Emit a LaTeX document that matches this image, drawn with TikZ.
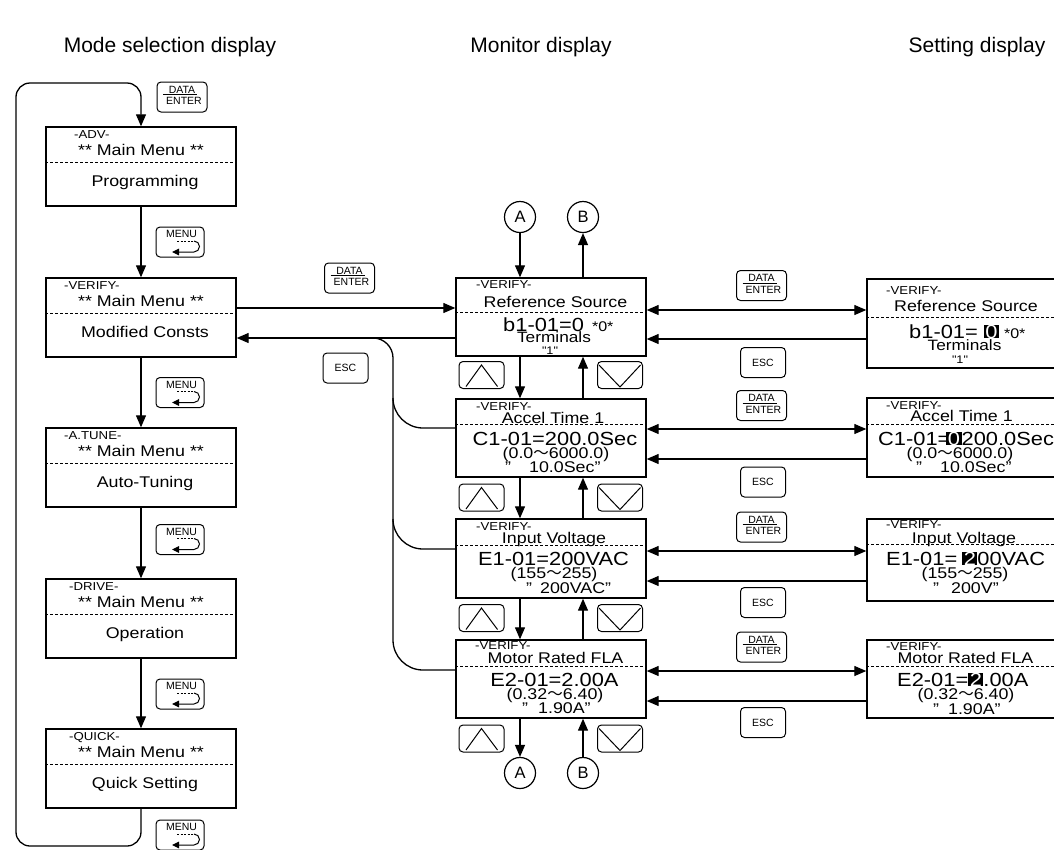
\documentclass[tikz,border=0pt]{standalone}
\usepackage{fontspec}
\setmainfont{Liberation Sans}
\setsansfont{Liberation Sans}
\newfontfamily\lcd[FakeStretch=1.15]{Liberation Sans}
\newfontfamily\cjkjp{Noto Sans CJK JP}
\usetikzlibrary{arrows.meta}
\newcommand\wv{{\cjkjp 〜}}
\newcommand\hlbox[1]{{\setlength\fboxsep{0pt}\colorbox{black}{\hspace{1.5pt}\textcolor{white}{#1}\hspace{1.5pt}}}}
\tikzset{
  lcdbox/.style={draw, line width=1.4pt, rectangle, inner sep=0pt},
  dsh/.style={line width=1pt, dash pattern=on 3pt off 2pt},
  conn/.style={line width=1.3pt},
  arr/.style={-{Triangle[length=12pt,width=10pt]}},
  arrboth/.style={{Triangle[length=12pt,width=10pt]}-{Triangle[length=12pt,width=10pt]}},
  keybox/.style={draw, line width=1pt, rounded corners=4pt, rectangle, inner sep=0pt},
  keyf/.style={font=\fontsize{10.5}{11}\selectfont, inner sep=0pt},
  tagf/.style={font=\lcd\fontsize{11.5}{12}\selectfont, inner sep=0pt, anchor=base west},
  midf/.style={font=\lcd\fontsize{15.5}{17}\selectfont, inner sep=0pt, anchor=base},
  termf/.style={font=\lcd\fontsize{15}{16}\selectfont, inner sep=0pt, anchor=base},
  bigf/.style={font=\lcd\fontsize{19}{20}\selectfont, inner sep=0pt, anchor=base},
  bigw/.style={bigf, anchor=base west},
  deff/.style={font=\lcd\fontsize{15.5}{17}\selectfont, inner sep=0pt, anchor=base west},
  tinyf/.style={font=\lcd\fontsize{11}{12}\selectfont, inner sep=0pt, anchor=base},
  hdrf/.style={font=\fontsize{21}{24}\selectfont, inner sep=0pt, anchor=base},
  circ/.style={draw, circle, line width=1.2pt, minimum size=31pt, inner sep=0pt, font=\fontsize{16.5}{18}\selectfont},
  dataenter/.pic={
    \node[keybox, minimum width=50pt, minimum height=30pt] (-b) at (0,0) {};
    \node[keyf, anchor=base] (-t) at (0,3.8) {DATA};
    \node[keyf, anchor=base] (-u) at (2,-7.8) {ENTER};
    \draw[line width=0.8pt] (-19,2.3) -- (15,2.3);
  },
  menukey/.pic={
    \node[keybox, minimum width=48pt, minimum height=30pt] (-b) at (0,0) {};
    \node[keyf, anchor=base] (-t) at (1.5,4.2) {MENU};
    \draw[line width=0.9pt, dash pattern=on 2pt off 1.5pt] (-3,1) -- (14,1);
    \draw[line width=1pt, -{Triangle[length=7pt,width=6.5pt]}] (14,1) arc[start angle=90, end angle=-90, radius=5.5] -- (-8,-10);
  },
  upkey/.pic={
    \node[keybox, minimum width=45pt, minimum height=27pt] (-b) at (0,0) {};
    \draw[line width=1pt] (-15.5,-11.5) -- (0,10) -- (16,-11.5);
  },
  downkey/.pic={
    \node[keybox, minimum width=45pt, minimum height=27pt] (-b) at (0,0) {};
    \draw[line width=1pt] (-21,10) -- (0,-12) -- (20.5,10);
  },
  esckey/.pic={
    \node[keybox, minimum width=45pt, minimum height=30pt] (-b) at (0,0) {};
    \node[keyf] (-t) at (0,0) {ESC};
  },
}
\newcommand\modebox[5]{%
  \node[lcdbox, minimum width=190pt, minimum height=79pt] (#1) at (141,{-(#2)-39.5}) {};
  \draw[dsh] ([yshift=-36.5pt]#1.north west) -- ([yshift=-36.5pt]#1.north east);
  \node[tagf] (#1t) at (#4,{-(#2)-11}) {#3};
  \node[midf] (#1m) at (141,{-(#2)-28.5}) {** Main Menu **};
  \node[midf] (#1b) at (145,{-(#2)-59.5}) {#5};
}
\begin{document}
\begin{tikzpicture}[x=1pt,y=1pt]
\useasboundingbox (0,0) rectangle (1054,-849);
\clip (0,0) rectangle (1054,-849);

% headers
\node[hdrf] (h1) at (170,-52) {Mode selection display};
\node[hdrf] (h2) at (541,-52) {Monitor display};
\node[hdrf] (h3) at (977,-52) {Setting display};

% mode selection column
\modebox{L1}{127}{-ADV-}{74}{Programming}
\modebox{L2}{278}{-VERIFY-}{64}{Modified Consts}
\modebox{L3}{428}{-A.TUNE-}{64}{Auto-Tuning}
\modebox{L4}{579}{-DRIVE-}{69}{Operation}
\modebox{L5}{729}{-QUICK-}{69}{Quick Setting}

\draw[conn,arr] (L1.south) -- (L2.north);
\draw[conn,arr] (L2.south) -- (L3.north);
\draw[conn,arr] (L3.south) -- (L4.north);
\draw[conn,arr] (L4.south) -- (L5.north);
\coordinate (lpa) at (141,-846);
\coordinate (lpb) at (16,-846);
\coordinate (lpc) at (16,-83);
\coordinate (lpd) at (141,-83);
\draw[conn,arr,rounded corners=14pt] (L5.south) -- (lpa) -- (lpb) -- (lpc) -- (lpd) -- (L1.north);

\pic (kd0) at (182,-97) {dataenter};
\pic (km1) at (180,-242) {menukey};
\pic (km2) at (180,-392.5) {menukey};
\pic (km3) at (180,-539.5) {menukey};
\pic (km4) at (180,-694) {menukey};
\pic (km5) at (180,-835) {menukey};

% monitor column boxes
\node[lcdbox, minimum width=190pt, minimum height=78pt] (M1) at (551,-317) {};
\node[lcdbox, minimum width=190pt, minimum height=78pt] (M2) at (551,-438) {};
\node[lcdbox, minimum width=190pt, minimum height=79pt] (M3) at (551,-558.5) {};
\node[lcdbox, minimum width=190pt, minimum height=78pt] (M4) at (551,-679) {};
\draw[dsh] ([yshift=-35pt]M1.north west) -- ([yshift=-35pt]M1.north east);
\draw[dsh] ([yshift=-26pt]M2.north west) -- ([yshift=-26pt]M2.north east);
\draw[dsh] ([yshift=-27pt]M3.north west) -- ([yshift=-27pt]M3.north east);
\draw[dsh] ([yshift=-27pt]M4.north west) -- ([yshift=-27pt]M4.north east);

\node[tagf] (M1t) at (476,-288) {-VERIFY-};
\node[midf] (M1a) at (555.5,-307.5) {Reference Source};
\node[bigw] (M1v) at (503,-331) {b1-01=0\hspace{8pt}{\fontsize{14}{15}\selectfont *0*}};
\node[termf] (M1c) at (554,-342.5) {Terminals};
\node[tinyf] (M1d) at (550,-354) {"1"};

\node[tagf] (M2t) at (476,-410) {-VERIFY-};
\node[midf] (M2a) at (553,-423.5) {Accel Time 1};
\node[bigf] (M2v) at (555,-445) {C1-01=200.0Sec};
\node[midf] (M2r) at (556,-458.5) {(0.0\wv6000.0)};
\node[deff] (M2d) at (505,-472.5) {”\hspace{18pt}10.0Sec”};

\node[tagf] (M3t) at (476,-530) {-VERIFY-};
\node[midf] (M3a) at (554,-543.5) {Input Voltage};
\node[bigf] (M3v) at (553.5,-565) {E1-01=200VAC};
\node[midf] (M3r) at (554,-578.5) {(155\wv255)};
\node[deff] (M3d) at (526,-593.5) {”\hspace{8pt}200VAC”};

\node[tagf] (M4t) at (475,-649) {-VERIFY-};
\node[midf] (M4a) at (555.5,-663.5) {Motor Rated FLA};
\node[bigf] (M4v) at (554.5,-686) {E2-01=2.00A};
\node[midf] (M4r) at (555,-699.5) {(0.32\wv6.40)};
\node[deff] (M4d) at (522,-713.5) {”\hspace{10pt}1.90A”};

% circles and vertical arrows
\node[circ] (A1) at (520,-217) {A};
\node[circ] (B1) at (583,-217) {B};
\node[circ] (A2) at (520,-773) {A};
\node[circ] (B2) at (583,-773) {B};
\coordinate (xd) at (520,0);
\coordinate (xu) at (583,0);
\draw[conn,arr] (A1) -- (M1.north -| xd);
\draw[conn,arr] (M1.north -| xu) -- (B1);
\draw[conn,arr] (M1.south -| xd) -- (M2.north -| xd);
\draw[conn,arr] (M2.north -| xu) -- (M1.south -| xu);
\draw[conn,arr] (M2.south -| xd) -- (M3.north -| xd);
\draw[conn,arr] (M3.north -| xu) -- (M2.south -| xu);
\draw[conn,arr] (M3.south -| xd) -- (M4.north -| xd);
\draw[conn,arr] (M4.north -| xu) -- (M3.south -| xu);
\draw[conn,arr] (M4.south -| xd) -- (A2);
\draw[conn,arr] (B2) -- (M4.south -| xu);

\pic (ku1) at (481.5,-375) {upkey};
\pic (ku2) at (481.5,-497.5) {upkey};
\pic (ku3) at (481.5,-618) {upkey};
\pic (ku4) at (481.5,-738.5) {upkey};
\pic (kn1) at (620,-375) {downkey};
\pic (kn2) at (620,-497.5) {downkey};
\pic (kn3) at (620,-618) {downkey};
\pic (kn4) at (620,-738.5) {downkey};

% mode <-> monitor
\coordinate (y308) at (0,-308);
\coordinate (y338) at (0,-338);
\draw[conn,arr] (L2.east |- y308) -- (M1.west |- y308);
\draw[conn,arr] (M1.west |- y338) -- (L2.east |- y338);
\pic (kd1) at (349.5,-278) {dataenter};
\pic (ke1) at (345.5,-368) {esckey};
\coordinate (bus0) at (373,-338);
\coordinate (bus1) at (393,-398);
\coordinate (bus2) at (393,-519);
\coordinate (y428) at (0,-428);
\coordinate (y549) at (0,-549);
\coordinate (y670) at (0,-670);
\draw[conn] (bus0) arc[start angle=90, end angle=0, radius=20] -- (393,-640) arc[start angle=180, end angle=270, radius=30] -- (M4.west |- y670);
\draw[conn] (bus1) arc[start angle=180, end angle=270, radius=30] -- (M2.west |- y428);
\draw[conn] (bus2) arc[start angle=180, end angle=270, radius=30] -- (M3.west |- y549);

% setting column boxes
\node[lcdbox, minimum width=220pt, minimum height=89pt] (R1) at (977,-323.5) {};
\node[lcdbox, minimum width=220pt, minimum height=79pt] (R2) at (977,-437.5) {};
\node[lcdbox, minimum width=220pt, minimum height=82pt] (R3) at (977,-560) {};
\node[lcdbox, minimum width=220pt, minimum height=78pt] (R4) at (977,-679) {};
\draw[dsh] ([yshift=-39pt]R1.north west) -- ([yshift=-39pt]R1.north east);
\draw[dsh] ([yshift=-27pt]R2.north west) -- ([yshift=-27pt]R2.north east);
\draw[dsh] ([yshift=-26pt]R3.north west) -- ([yshift=-26pt]R3.north east);
\draw[dsh] ([yshift=-27pt]R4.north west) -- ([yshift=-27pt]R4.north east);

\node[tagf] (R1t) at (886,-294) {-VERIFY-};
\node[midf] (R1a) at (966,-311.5) {Reference Source};
\node[bigw] (R1v) at (909,-338) {b1-01=\hspace{6pt}\hlbox{0}\hspace{5pt}{\fontsize{14}{15}\selectfont *0*}};
\node[termf] (R1c) at (964.5,-350.5) {Terminals};
\node[tinyf] (R1d) at (960,-363) {"1"};

\node[tagf] (R2t) at (886,-409) {-VERIFY-};
\node[midf] (R2a) at (961.5,-421.5) {Accel Time 1};
\node[bigw] (R2v) at (878,-445) {C1-01=\hspace{-4pt}\hlbox{0}200.0Sec};
\node[midf] (R2r) at (960,-458.5) {(0.0\wv6000.0)};
\node[deff] (R2d) at (916,-472.5) {”\hspace{18pt}10.0Sec”};

\node[tagf] (R3t) at (886,-528) {-VERIFY-};
\node[midf] (R3a) at (964,-543.5) {Input Voltage};
\node[bigw] (R3v) at (886,-565) {E1-01=\hspace{5pt}\hlbox{2}00VAC};
\node[midf] (R3r) at (965,-578.5) {(155\wv255)};
\node[deff] (R3d) at (933,-593.5) {”\hspace{12pt}200V”};

\node[tagf] (R4t) at (886,-650) {-VERIFY-};
\node[midf] (R4a) at (965.5,-663.5) {Motor Rated FLA};
\node[bigw] (R4v) at (897,-686) {E2-01=\hlbox{2}.00A};
\node[midf] (R4r) at (966,-699.5) {(0.32\wv6.40)};
\node[deff] (R4d) at (933,-714) {”\hspace{9pt}1.90A”};

% monitor <-> setting
\coordinate (y310) at (0,-310);
\coordinate (y339) at (0,-339);
\coordinate (y429) at (0,-429);
\coordinate (y459) at (0,-459);
\coordinate (y551) at (0,-551);
\coordinate (y581) at (0,-581);
\coordinate (y671) at (0,-671);
\coordinate (y701) at (0,-701);
\draw[conn,arrboth] (M1.east |- y310) -- (R1.west |- y310);
\draw[conn,arr] (R1.west |- y339) -- (M1.east |- y339);
\draw[conn,arrboth] (M2.east |- y429) -- (R2.west |- y429);
\draw[conn,arr] (R2.west |- y459) -- (M2.east |- y459);
\draw[conn,arrboth] (M3.east |- y551) -- (R3.west |- y551);
\draw[conn,arr] (R3.west |- y581) -- (M3.east |- y581);
\draw[conn,arrboth] (M4.east |- y671) -- (R4.west |- y671);
\draw[conn,arr] (R4.west |- y701) -- (M4.east |- y701);

\pic (kd2) at (761.5,-285.5) {dataenter};
\pic (kd3) at (761.5,-405.5) {dataenter};
\pic (kd4) at (761.5,-527) {dataenter};
\pic (kd5) at (761.5,-647) {dataenter};
\pic (ke2) at (763,-362.5) {esckey};
\pic (ke3) at (763,-482) {esckey};
\pic (ke4) at (763,-602.5) {esckey};
\pic (ke5) at (763,-722.5) {esckey};
\end{tikzpicture}
\end{document}
